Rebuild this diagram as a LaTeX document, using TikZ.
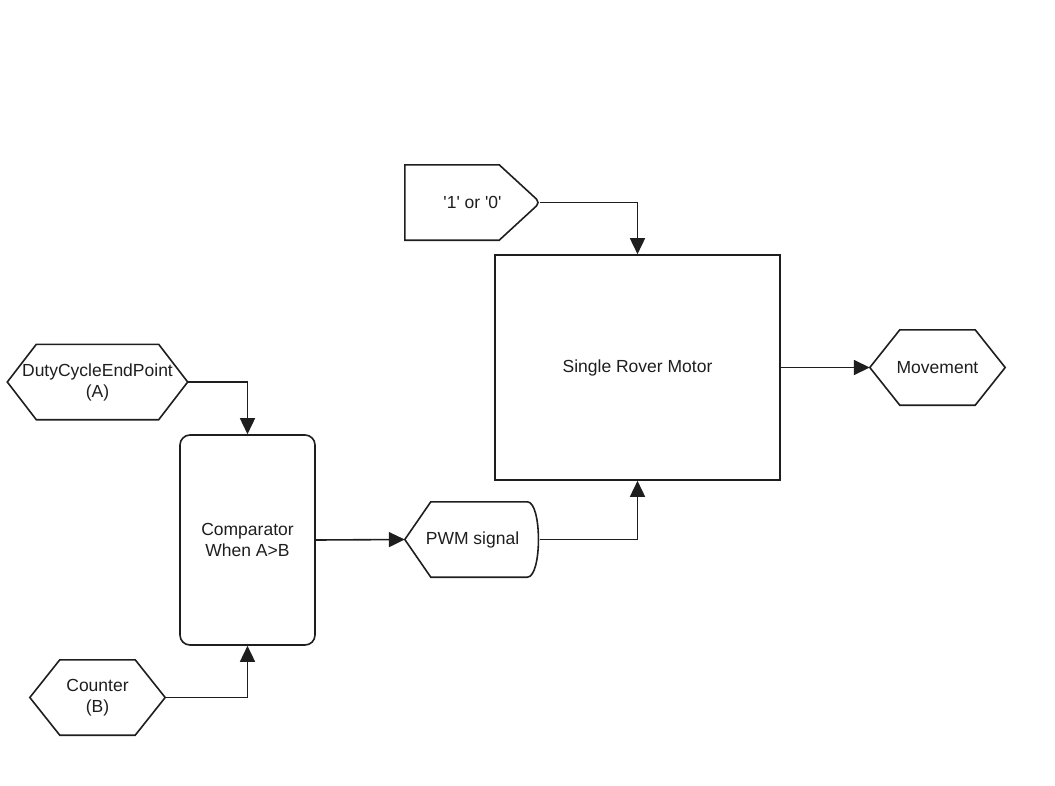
\documentclass[tikz,border=0pt]{standalone}
\usepackage{fontspec}
\setmainfont{Liberation Sans}
\usetikzlibrary{arrows.meta}
\definecolor{ink}{RGB}{30,30,30}
% outline of a flat-topped hexagon around node #1, corners set in by #2
\newcommand\hexoutline[2]{%
  \draw[shapeline] (#1.west) -- ([xshift=#2]#1.north west) -- ([xshift=-#2]#1.north east)
    -- (#1.east) -- ([xshift=-#2]#1.south east) -- ([xshift=#2]#1.south west) -- cycle;}
\begin{document}
\begin{tikzpicture}[x=1pt,y=-1pt,
  every node/.style={font=\fontsize{17.5}{21}\selectfont, text=ink, align=center, inner sep=0pt},
  shapeline/.style={draw=ink, line width=1.6pt, line join=miter},
  slot/.style={minimum width=#1, minimum height=75pt},
  blockbox/.style={shapeline, rectangle},
  flow/.style={draw=ink, line width=1.6pt, -{Triangle[length=16pt,width=15pt]}}]
\useasboundingbox (0,0) rectangle (1055,785);

% inputs and outputs
\node[slot=135pt] (bit) at (472.5,202.5) {\textquotesingle 1\textquotesingle{} or \textquotesingle 0\textquotesingle};
\draw[shapeline] (bit.north west) -- ([xshift=-41pt]bit.north east)
  [rounded corners=5pt] -- (bit.east) [sharp corners] -- ([xshift=-41pt]bit.south east)
  -- (bit.south west) -- cycle;

\node[slot=180pt] (duty) at (97.5,382) {DutyCycleEndPoint\\(A)};
\hexoutline{duty}{29pt}
\node[slot=135pt] (counter) at (97.5,697.5) {Counter\\(B)};
\hexoutline{counter}{30pt}
\node[slot=135pt] (move) at (937.5,367.5) {Movement};
\hexoutline{move}{30pt}

% processing blocks
\node[blockbox, minimum width=285pt, minimum height=225pt] (motor) at (637.5,367.5) {Single Rover Motor};
\node[blockbox, rounded corners=10pt, minimum width=135pt, minimum height=210pt] (comp) at (247.5,540) {Comparator\\When A>B};

% PWM output: pointed left side, rounded right side
\node[slot=135pt] (pwm) at (472.5,539.5) {PWM signal};
\draw[shapeline]
  (pwm.west) -- ([xshift=26pt]pwm.north west) -- ([xshift=-13pt]pwm.north east)
  .. controls ([xshift=2pt]pwm.north east) and ([xshift=2pt]pwm.south east) .. ([xshift=-13pt]pwm.south east)
  -- ([xshift=26pt]pwm.south west) -- cycle;

% connectors
\draw[flow] (bit.east) -| (motor.north);
\draw[flow] (motor.east) -- (move.west);
\draw[flow] (duty.east) -| (comp.north);
\draw[flow] (counter.east) -| (comp.south);
\draw[flow] (comp.east) -- (pwm.west);
\draw[flow] (pwm.east) -| (motor.south);
\end{tikzpicture}
\end{document}
